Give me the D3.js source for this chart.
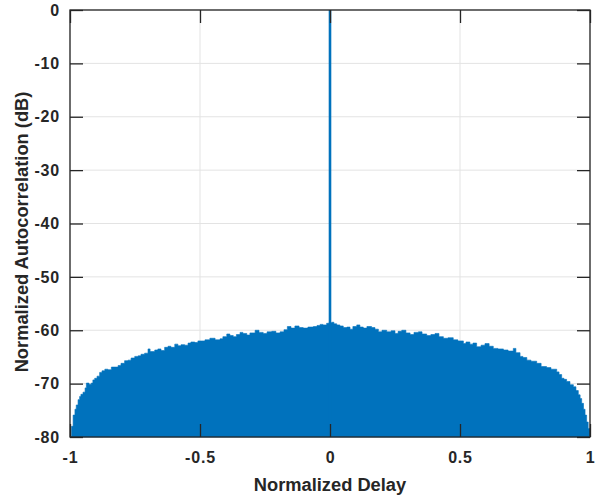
<!DOCTYPE html>
<html><head><meta charset="utf-8">
<script src="https://cdn.jsdelivr.net/npm/d3@7"></script>
<style>body{margin:0;background:#fff}svg{display:block}text{font-family:"Liberation Sans",Arial,sans-serif;font-weight:bold;fill:#262626}</style>
</head><body><svg id="c" width="608" height="498"></svg>
<script>
const delays = [-1.000,-0.994,-0.988,-0.981,-0.976,-0.969,-0.963,-0.958,-0.950,-0.942,-0.937,-0.927,-0.918,-0.912,-0.905,-0.896,-0.886,-0.877,-0.866,-0.854,-0.841,-0.831,-0.815,-0.804,-0.790,-0.777,-0.765,-0.751,-0.738,-0.727,-0.713,-0.700,-0.692,-0.674,-0.662,-0.650,-0.636,-0.623,-0.612,-0.597,-0.585,-0.573,-0.559,-0.546,-0.535,-0.520,-0.508,-0.495,-0.481,-0.462,-0.442,-0.423,-0.412,-0.397,-0.385,-0.372,-0.360,-0.346,-0.335,-0.320,-0.308,-0.288,-0.273,-0.257,-0.242,-0.224,-0.208,-0.192,-0.177,-0.164,-0.150,-0.135,-0.119,-0.103,-0.085,-0.064,-0.050,-0.038,-0.027,-0.013,-0.004,0.007,0.015,0.026,0.038,0.051,0.065,0.077,0.088,0.103,0.115,0.128,0.142,0.160,0.173,0.186,0.200,0.218,0.235,0.250,0.262,0.276,0.292,0.308,0.323,0.340,0.354,0.372,0.388,0.404,0.419,0.436,0.454,0.474,0.492,0.513,0.523,0.538,0.550,0.564,0.581,0.596,0.612,0.628,0.646,0.667,0.685,0.705,0.715,0.731,0.742,0.757,0.773,0.795,0.812,0.833,0.850,0.872,0.881,0.891,0.900,0.910,0.923,0.936,0.946,0.955,0.962,0.968,0.975,0.981,0.987,0.993,1.000];
const levelsDb = [-80,-78,-75.9,-74.8,-74,-73,-72.4,-72,-71.6,-70.8,-69.9,-70.1,-69.9,-69.3,-69,-68.6,-67.9,-67.6,-67.3,-67.4,-66.9,-66.9,-66.6,-66.2,-65.7,-65.6,-65.2,-64.9,-64.8,-64.5,-64.3,-63.5,-64.0,-63.7,-63.5,-63.8,-63.2,-63.0,-63.2,-62.6,-62.9,-62.7,-62.8,-62.4,-62.2,-62.3,-62.0,-62.0,-61.8,-61.5,-61.8,-61.6,-61.2,-60.7,-61.0,-61.2,-60.8,-60.4,-60.6,-60.9,-60.5,-60.0,-60.4,-60.6,-60.3,-60.2,-60.5,-60.3,-59.9,-59.3,-59.6,-59.2,-59.5,-59.6,-59.4,-59.3,-59.1,-58.9,-59.0,-58.7,-58.6,-58.5,-58.8,-59.0,-59.2,-59.5,-59.4,-59.8,-59.3,-59.0,-59.4,-59.6,-59.3,-59.5,-59.8,-60.3,-60.0,-60.3,-60.1,-60.6,-60.2,-60.0,-60.5,-60.8,-60.4,-60.3,-60.7,-61.0,-60.8,-60.6,-61.2,-61.5,-61.4,-61.8,-62.0,-62.5,-62.2,-62.6,-62.4,-63.1,-62.8,-62.5,-63.0,-63.4,-63.5,-63.7,-63.9,-63.4,-64.2,-64.9,-65.1,-65.6,-65.8,-66.2,-66.8,-67.0,-67.3,-67.8,-68.3,-69.0,-69.2,-69.6,-70.2,-70.6,-71.3,-72.1,-72.8,-73.7,-74.8,-75.9,-77.2,-78.4,-80];
const peakDelay = [0];
const peakDb = [0];
const xTicks = [-1,-0.5,0,0.5,1];
const xTickLabels = ["-1","-0.5","0","0.5","1"];
const yTicks = [0,-10,-20,-30,-40,-50,-60,-70,-80];
const yTickLabels = ["0","-10","-20","-30","-40","-50","-60","-70","-80"];
const xLabel = "Normalized Delay";
const yLabel = "Normalized Autocorrelation (dB)";

const L=70,R=590,T=10,B=437;
const svg=d3.select("#c");
svg.append("rect").attr("width",608).attr("height",498).attr("fill","#fff");
const x=d3.scaleLinear().domain([-1,1]).range([L,R]);
const y=d3.scaleLinear().domain([-80,0]).range([B,T]);
const axisCol="#262626";
// grid
const g=svg.append("g");
g.selectAll(".gx").data(xTicks).join("line").attr("x1",d=>x(d)).attr("x2",d=>x(d)).attr("y1",T).attr("y2",B).attr("stroke","#e3e3e3").attr("stroke-width",1);
g.selectAll(".gy").data(yTicks).join("line").attr("y1",d=>y(d)).attr("y2",d=>y(d)).attr("x1",L).attr("x2",R).attr("stroke","#e3e3e3").attr("stroke-width",1);
// data
const pts=delays.map((d,i)=>[d,levelsDb[i]]);
const area=d3.area().x(d=>x(d[0])).y0(y(-80)).y1(d=>y(d[1])).curve(d3.curveStepAfter);
svg.append("path").datum(pts).attr("d",area).attr("fill","#0072BD").attr("stroke","#0072BD").attr("stroke-width",0.6);
svg.selectAll(".pk").data(peakDelay).join("line").attr("x1",d=>x(d)).attr("x2",d=>x(d)).attr("y1",y(-80)).attr("y2",(d,i)=>y(peakDb[i])).attr("stroke","#0072BD").attr("stroke-width",2.6);
// axes with inward ticks
const tl=13;
const ax=svg.append("g").attr("transform",`translate(0,${B})`).call(d3.axisBottom(x).tickValues(xTicks).tickFormat((d,i)=>xTickLabels[i]).tickSizeInner(-tl).tickSizeOuter(0).tickPadding(15));
const axT=svg.append("g").attr("transform",`translate(0,${T})`).call(d3.axisTop(x).tickValues(xTicks).tickFormat("").tickSizeInner(-tl).tickSizeOuter(0));
const ay=svg.append("g").attr("transform",`translate(${L},0)`).call(d3.axisLeft(y).tickValues(yTicks).tickFormat((d,i)=>yTickLabels[i]).tickSizeInner(-tl).tickSizeOuter(0).tickPadding(10));
const ayR=svg.append("g").attr("transform",`translate(${R},0)`).call(d3.axisRight(y).tickValues(yTicks).tickFormat("").tickSizeInner(-tl).tickSizeOuter(0));
[ax,axT,ay,ayR].forEach(a=>{a.select(".domain").remove();a.selectAll("line").attr("stroke",axisCol).attr("stroke-width",1.3);a.selectAll("text").attr("fill",axisCol).style("font-size","16px").style("letter-spacing","0.8px").style("font-weight","bold").style("font-family","'Liberation Sans',Arial,sans-serif");});
svg.append("rect").attr("x",L).attr("y",T).attr("width",R-L).attr("height",B-T).attr("fill","none").attr("stroke",axisCol).attr("stroke-width",1.3);
svg.append("text").attr("x",(L+R)/2).attr("y",491).attr("text-anchor","middle").style("font-size","18.3px").text(xLabel);
svg.append("text").attr("transform",`translate(28,232) rotate(-90)`).attr("text-anchor","middle").style("font-size","18.3px").text(yLabel);
</script></body></html>
